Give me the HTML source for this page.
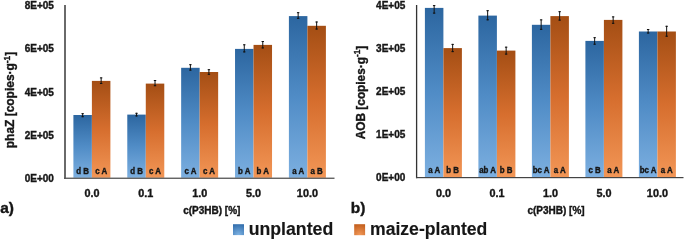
<!DOCTYPE html>
<html><head><meta charset="utf-8"><style>
html,body{margin:0;padding:0;background:#fff;width:685px;height:242px;overflow:hidden}
svg{display:block;will-change:transform}
text{font-family:"Liberation Sans",sans-serif;font-weight:bold;fill:#161616;stroke:#161616;stroke-width:0.38px}
</style></head><body>
<svg width="685" height="242" viewBox="0 0 685 242">
<defs>
<linearGradient id="gb" x1="0" y1="0" x2="0" y2="1">
<stop offset="0" stop-color="#2c66a0"/><stop offset="0.5" stop-color="#508cc6"/><stop offset="1" stop-color="#7cafe0"/>
</linearGradient>
<linearGradient id="go" x1="0" y1="0" x2="0" y2="1">
<stop offset="0" stop-color="#a44e14"/><stop offset="0.5" stop-color="#d66e2e"/><stop offset="1" stop-color="#f29656"/>
</linearGradient>
<radialGradient id="lb" cx="0.5" cy="1" r="1"><stop offset="0" stop-color="#80b4e4"/><stop offset="1" stop-color="#3470ae"/></radialGradient>
<radialGradient id="lo" cx="0.5" cy="1" r="1"><stop offset="0" stop-color="#f39a5a"/><stop offset="1" stop-color="#c4601e"/></radialGradient>
</defs>
<rect width="685" height="242" fill="#fff"/>

<rect x="73.40" y="115.00" width="18.5" height="62.80" fill="url(#gb)"/>
<rect x="91.90" y="80.90" width="18.5" height="96.90" fill="url(#go)"/>
<path d="M82.65 113.20V117.20M81.45 113.70H83.85M81.45 116.70H83.85" stroke="#111" stroke-width="1" fill="none"/>
<path d="M101.15 77.40V84.00M99.95 77.90H102.35M99.95 83.50H102.35" stroke="#111" stroke-width="1" fill="none"/>
<text transform="translate(82.65,173.60) scale(0.9,1)" font-size="8.8" text-anchor="middle">d B</text>
<text transform="translate(101.15,173.60) scale(0.9,1)" font-size="8.8" text-anchor="middle">c A</text>
<text transform="translate(91.90,196.9) scale(1.04,1)" font-size="10.4" text-anchor="middle">0.0</text>
<rect x="127.28" y="114.60" width="18.5" height="63.20" fill="url(#gb)"/>
<rect x="145.78" y="83.60" width="18.5" height="94.20" fill="url(#go)"/>
<path d="M136.53 112.80V116.40M135.33 113.30H137.72M135.33 115.90H137.72" stroke="#111" stroke-width="1" fill="none"/>
<path d="M155.03 80.00V86.20M153.83 80.50H156.22M153.83 85.70H156.22" stroke="#111" stroke-width="1" fill="none"/>
<text transform="translate(136.53,173.60) scale(0.9,1)" font-size="8.8" text-anchor="middle">d B</text>
<text transform="translate(155.03,173.60) scale(0.9,1)" font-size="8.8" text-anchor="middle">c A</text>
<text transform="translate(145.78,196.9) scale(1.04,1)" font-size="10.4" text-anchor="middle">0.1</text>
<rect x="181.15" y="67.80" width="18.5" height="110.00" fill="url(#gb)"/>
<rect x="199.65" y="72.00" width="18.5" height="105.80" fill="url(#go)"/>
<path d="M190.40 64.20V70.60M189.20 64.70H191.60M189.20 70.10H191.60" stroke="#111" stroke-width="1" fill="none"/>
<path d="M208.90 69.20V74.80M207.70 69.70H210.10M207.70 74.30H210.10" stroke="#111" stroke-width="1" fill="none"/>
<text transform="translate(190.40,173.60) scale(0.9,1)" font-size="8.8" text-anchor="middle">c A</text>
<text transform="translate(208.90,173.60) scale(0.9,1)" font-size="8.8" text-anchor="middle">c A</text>
<text transform="translate(199.65,196.9) scale(1.04,1)" font-size="10.4" text-anchor="middle">1.0</text>
<rect x="235.03" y="48.90" width="18.5" height="128.90" fill="url(#gb)"/>
<rect x="253.53" y="44.90" width="18.5" height="132.90" fill="url(#go)"/>
<path d="M244.28 44.30V52.40M243.08 44.80H245.47M243.08 51.90H245.47" stroke="#111" stroke-width="1" fill="none"/>
<path d="M262.77 41.00V48.40M261.57 41.50H263.97M261.57 47.90H263.97" stroke="#111" stroke-width="1" fill="none"/>
<text transform="translate(244.28,173.60) scale(0.9,1)" font-size="8.8" text-anchor="middle">b A</text>
<text transform="translate(262.77,173.60) scale(0.9,1)" font-size="8.8" text-anchor="middle">b A</text>
<text transform="translate(253.53,196.9) scale(1.04,1)" font-size="10.4" text-anchor="middle">5.0</text>
<rect x="288.90" y="16.10" width="18.5" height="161.70" fill="url(#gb)"/>
<rect x="307.40" y="25.80" width="18.5" height="152.00" fill="url(#go)"/>
<path d="M298.15 12.20V18.80M296.95 12.70H299.35M296.95 18.30H299.35" stroke="#111" stroke-width="1" fill="none"/>
<path d="M316.65 21.50V29.50M315.45 22.00H317.85M315.45 29.00H317.85" stroke="#111" stroke-width="1" fill="none"/>
<text transform="translate(298.15,173.60) scale(0.9,1)" font-size="8.8" text-anchor="middle">a A</text>
<text transform="translate(316.65,173.60) scale(0.9,1)" font-size="8.8" text-anchor="middle">a B</text>
<text transform="translate(307.40,196.9) scale(1.04,1)" font-size="10.4" text-anchor="middle">10.0</text>
<rect x="64.00" y="5" width="2.0" height="173.90" fill="#6a6a6a"/>
<rect x="64" y="177.6" width="270.50" height="1.3" fill="#555"/>
<text x="53.9" y="9.0" font-size="10" text-anchor="end">8E+05</text>
<text x="53.9" y="52.3" font-size="10" text-anchor="end">6E+05</text>
<text x="53.9" y="95.5" font-size="10" text-anchor="end">4E+05</text>
<text x="53.9" y="138.8" font-size="10" text-anchor="end">2E+05</text>
<text x="53.9" y="182.0" font-size="10" text-anchor="end">0E+00</text>
<rect x="424.90" y="7.90" width="18.5" height="169.10" fill="url(#gb)"/>
<rect x="443.40" y="48.10" width="18.5" height="128.90" fill="url(#go)"/>
<path d="M434.15 5.10V13.60M432.95 5.60H435.35M432.95 13.10H435.35" stroke="#111" stroke-width="1" fill="none"/>
<path d="M452.65 43.90V52.10M451.45 44.40H453.85M451.45 51.60H453.85" stroke="#111" stroke-width="1" fill="none"/>
<text transform="translate(434.15,172.80) scale(0.9,1)" font-size="8.8" text-anchor="middle">a A</text>
<text transform="translate(452.65,172.80) scale(0.9,1)" font-size="8.8" text-anchor="middle">b B</text>
<text transform="translate(443.40,196.6) scale(1.04,1)" font-size="10.4" text-anchor="middle">0.0</text>
<rect x="478.40" y="15.60" width="18.5" height="161.40" fill="url(#gb)"/>
<rect x="496.90" y="50.60" width="18.5" height="126.40" fill="url(#go)"/>
<path d="M487.65 10.20V20.30M486.45 10.70H488.85M486.45 19.80H488.85" stroke="#111" stroke-width="1" fill="none"/>
<path d="M506.15 46.70V54.60M504.95 47.20H507.35M504.95 54.10H507.35" stroke="#111" stroke-width="1" fill="none"/>
<text transform="translate(487.65,172.80) scale(0.9,1)" font-size="8.8" text-anchor="middle">ab A</text>
<text transform="translate(506.15,172.80) scale(0.9,1)" font-size="8.8" text-anchor="middle">b B</text>
<text transform="translate(496.90,196.6) scale(1.04,1)" font-size="10.4" text-anchor="middle">0.1</text>
<rect x="531.90" y="24.80" width="18.5" height="152.20" fill="url(#gb)"/>
<rect x="550.40" y="16.10" width="18.5" height="160.90" fill="url(#go)"/>
<path d="M541.15 19.40V29.80M539.95 19.90H542.35M539.95 29.30H542.35" stroke="#111" stroke-width="1" fill="none"/>
<path d="M559.65 11.20V20.60M558.45 11.70H560.85M558.45 20.10H560.85" stroke="#111" stroke-width="1" fill="none"/>
<text transform="translate(541.15,172.80) scale(0.9,1)" font-size="8.8" text-anchor="middle">bc A</text>
<text transform="translate(559.65,172.80) scale(0.9,1)" font-size="8.8" text-anchor="middle">a A</text>
<text transform="translate(550.40,196.6) scale(1.04,1)" font-size="10.4" text-anchor="middle">1.0</text>
<rect x="585.40" y="40.90" width="18.5" height="136.10" fill="url(#gb)"/>
<rect x="603.90" y="19.90" width="18.5" height="157.10" fill="url(#go)"/>
<path d="M594.65 37.20V44.70M593.45 37.70H595.85M593.45 44.20H595.85" stroke="#111" stroke-width="1" fill="none"/>
<path d="M613.15 16.40V23.80M611.95 16.90H614.35M611.95 23.30H614.35" stroke="#111" stroke-width="1" fill="none"/>
<text transform="translate(594.65,172.80) scale(0.9,1)" font-size="8.8" text-anchor="middle">c B</text>
<text transform="translate(613.15,172.80) scale(0.9,1)" font-size="8.8" text-anchor="middle">a A</text>
<text transform="translate(603.90,196.6) scale(1.04,1)" font-size="10.4" text-anchor="middle">5.0</text>
<rect x="638.90" y="31.50" width="18.5" height="145.50" fill="url(#gb)"/>
<rect x="657.40" y="31.50" width="18.5" height="145.50" fill="url(#go)"/>
<path d="M648.15 29.00V33.50M646.95 29.50H649.35M646.95 33.00H649.35" stroke="#111" stroke-width="1" fill="none"/>
<path d="M666.65 25.80V36.70M665.45 26.30H667.85M665.45 36.20H667.85" stroke="#111" stroke-width="1" fill="none"/>
<text transform="translate(648.15,172.80) scale(0.9,1)" font-size="8.8" text-anchor="middle">bc A</text>
<text transform="translate(666.65,172.80) scale(0.9,1)" font-size="8.8" text-anchor="middle">a A</text>
<text transform="translate(657.40,196.6) scale(1.04,1)" font-size="10.4" text-anchor="middle">10.0</text>
<rect x="415.95" y="5" width="1.3" height="173.20" fill="#333"/>
<rect x="416" y="177.0" width="267.50" height="1.2" fill="#444"/>
<text x="405.3" y="9.1" font-size="10" text-anchor="end">4E+05</text>
<text x="405.3" y="52.2" font-size="10" text-anchor="end">3E+05</text>
<text x="405.3" y="95.3" font-size="10" text-anchor="end">2E+05</text>
<text x="405.3" y="138.4" font-size="10" text-anchor="end">1E+05</text>
<text x="405.3" y="181.4" font-size="10" text-anchor="end">0E+00</text>
<text x="211.8" y="214.3" font-size="10" text-anchor="middle">c(P3HB) [%]</text>
<text x="556" y="214" font-size="10" text-anchor="middle">c(P3HB) [%]</text>
<text transform="translate(14.1,148.2) rotate(-90)" font-size="12.8" textLength="96.5" lengthAdjust="spacingAndGlyphs">phaZ [copies·g<tspan font-size="9" dy="-4.6">-1</tspan><tspan dy="4.6">]</tspan></text>
<text transform="translate(364.5,139.2) rotate(-90)" font-size="12.8" textLength="93.5" lengthAdjust="spacingAndGlyphs">AOB [copies·g<tspan font-size="9" dy="-4.6">-1</tspan><tspan dy="4.6">]</tspan></text>
<text x="0.2" y="212.8" font-size="15.5">a)</text>
<text x="350.8" y="212.8" font-size="15.5">b)</text>
<rect x="233" y="224.2" width="11" height="10.9" fill="url(#lb)"/>
<text x="248.7" y="234.9" font-size="17.7" style="stroke-width:0.15px">unplanted</text>
<rect x="354.2" y="224.2" width="10.9" height="11" fill="url(#lo)"/>
<text x="370" y="234.9" font-size="17.6" style="stroke-width:0.15px">maize-planted</text>
</svg></body></html>
